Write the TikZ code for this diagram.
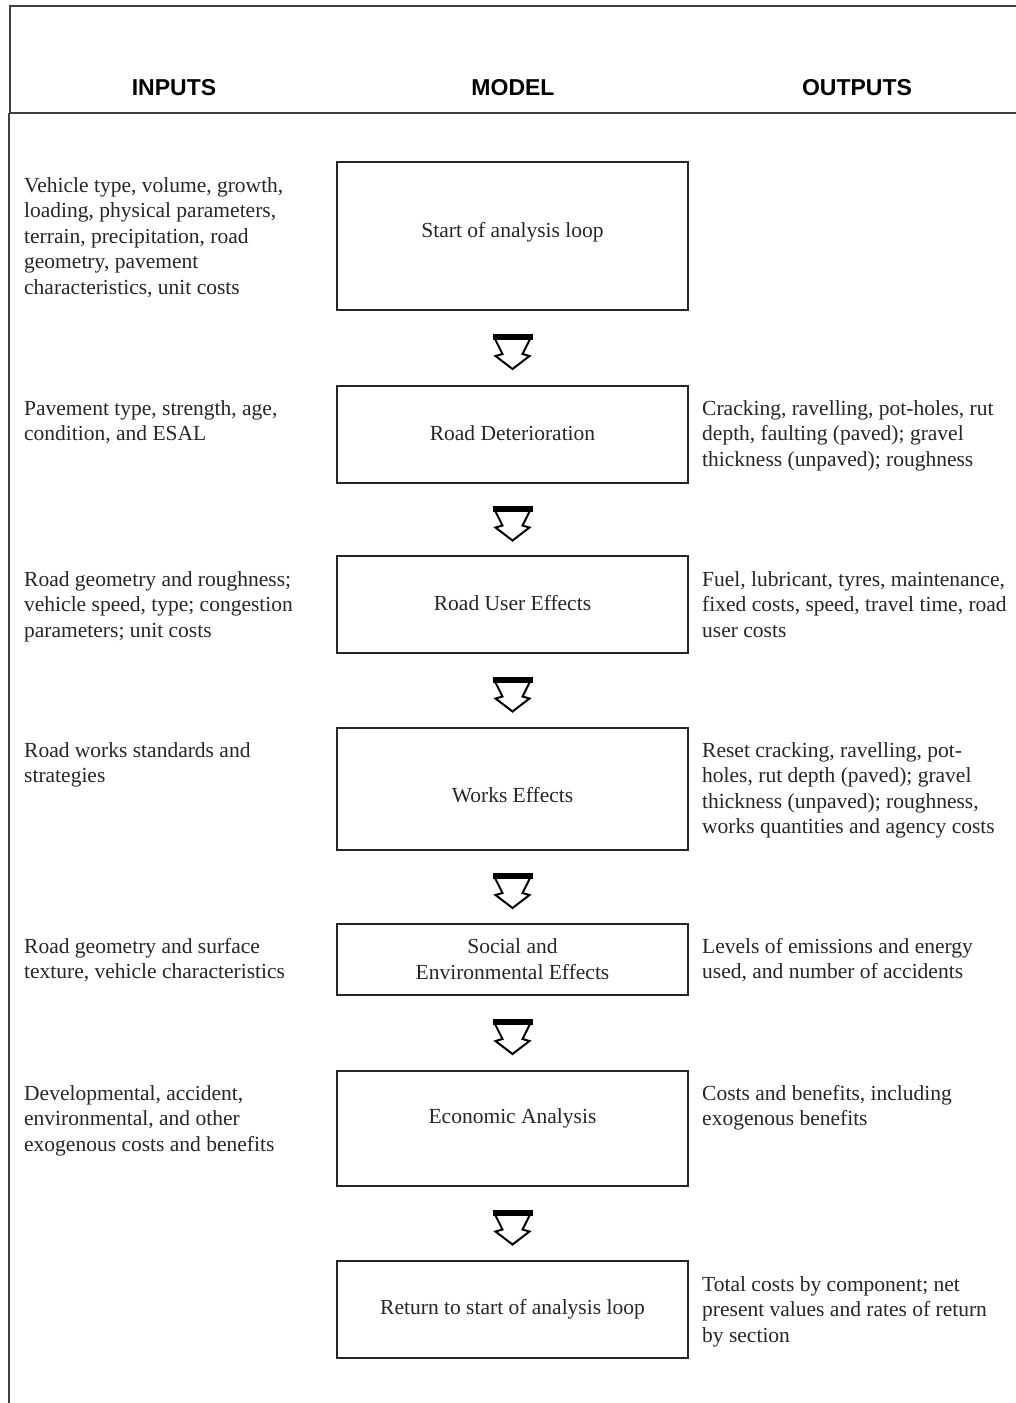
\documentclass[tikz,border=0pt]{standalone}
\usepackage{fontspec}
\setmainfont{Liberation Serif}
\newfontfamily\hdrfont{Liberation Sans}
\usetikzlibrary{calc}
\newcommand\bodysize{\fontsize{21.5}{25.5}\selectfont}
\newcommand\hollowarrow[2]{%
  \path ($(#1.south)!0.5!(#2.north)+(0,3)$) coordinate (tmpc);
  \fill[arrowbar] ($(tmpc)+(-20,-17)$) rectangle ($(tmpc)+(20,-11)$);
  \draw[arrowline]
    ($(tmpc)+(-19,-15)$) -- ($(tmpc)+(-10,3)$) -- ($(tmpc)+(-17,5)$) -- ($(tmpc)+(0,18)$)
    -- ($(tmpc)+(17,5)$) -- ($(tmpc)+(10,3)$) -- ($(tmpc)+(19,-15)$);
}
\begin{document}
\begin{tikzpicture}[x=1pt,y=-1pt,
  box/.style={draw=black!85, line width=2, minimum width=351, inner sep=0pt, align=center, font=\bodysize, text=black!85},
  txt/.style={anchor=north west, inner sep=0pt, align=left, font=\bodysize, text=black!85},
  ctxt/.style={inner sep=0pt, align=center, font=\bodysize, text=black!85},
  hdr/.style={inner sep=0pt, font=\hdrfont\bfseries\fontsize{23}{27}\selectfont, text=black},
  frame/.style={draw=black!75, line width=2.5},
  arrowbar/.style={fill=black},
  arrowline/.style={draw=black, line width=2, line join=miter}]
\useasboundingbox (0,0) rectangle (1016,1403);
% frame
\coordinate (f1) at (10,6);
\coordinate (f2) at (1016,6);
\coordinate (f3) at (10,113);
\coordinate (f4) at (1016,113);
\coordinate (f5) at (9,113);
\coordinate (f6) at (9,1403);
\draw[frame] (f2) -- (f1) -- (f3) -- (f4);
\draw[frame] (f5) -- (f6);
% headers
\node[hdr] (hin) at (174,88) {INPUTS};
\node[hdr] (hmod) at (513,88) {MODEL};
\node[hdr] (hout) at (857,88) {OUTPUTS};
% model boxes
\node[box, minimum height=148] (b1) at (512.5,236) {};
\node[ctxt] (t1) at (512.5,232) {Start of analysis loop};
\node[box, minimum height=97] (b2) at (512.5,434.5) {};
\node[ctxt] (t2) at (512.5,433) {Road Deterioration};
\node[box, minimum height=97] (b3) at (512.5,604.5) {};
\node[ctxt] (t3) at (512.5,603) {Road User Effects};
\node[box, minimum height=122] (b4) at (512.5,789) {};
\node[ctxt] (t4) at (512.5,795) {Works Effects};
\node[box, minimum height=71] (b5) at (512.5,959.5) {};
\node[ctxt] (t5) at (512.5,959) {Social and\\Environmental Effects};
\node[box, minimum height=115] (b6) at (512.5,1128.5) {};
\node[ctxt] (t6) at (512.5,1118) {Economic Analysis};
\node[box, minimum height=97] (b7) at (512.5,1309.5) {};
\node[ctxt] (t7) at (512.5,1309) {Return to start of analysis loop};
% arrows
\hollowarrow{b1}{b2}
\hollowarrow{b2}{b3}
\hollowarrow{b3}{b4}
\hollowarrow{b4}{b5}
\hollowarrow{b5}{b6}
\hollowarrow{b6}{b7}
% inputs
\node[txt] (i1) at (24,177) {Vehicle type, volume, growth,\\loading, physical parameters,\\terrain, precipitation, road\\geometry, pavement\\characteristics, unit costs};
\node[txt] (i2) at (24,400) {Pavement type, strength, age,\\condition, and ESAL};
\node[txt] (i3) at (24,571) {Road geometry and roughness;\\vehicle speed, type; congestion\\parameters; unit costs};
\node[txt] (i4) at (24,742) {Road works standards and\\strategies};
\node[txt] (i5) at (24,938) {Road geometry and surface\\texture, vehicle characteristics};
\node[txt] (i6) at (24,1085) {Developmental, accident,\\environmental, and other\\exogenous costs and benefits};
% outputs
\node[txt] (o2) at (702,400) {Cracking, ravelling, pot-holes, rut\\depth, faulting (paved); gravel\\thickness (unpaved); roughness};
\node[txt] (o3) at (702,571) {Fuel, lubricant, tyres, maintenance,\\fixed costs, speed, travel time, road\\user costs};
\node[txt] (o4) at (702,742) {Reset cracking, ravelling, pot-\\holes, rut depth (paved); gravel\\thickness (unpaved); roughness,\\works quantities and agency costs};
\node[txt] (o5) at (702,938) {Levels of emissions and energy\\used, and number of accidents};
\node[txt] (o6) at (702,1085) {Costs and benefits, including\\exogenous benefits};
\node[txt] (o7) at (702,1276) {Total costs by component; net\\present values and rates of return\\by section};
\end{tikzpicture}
\end{document}
